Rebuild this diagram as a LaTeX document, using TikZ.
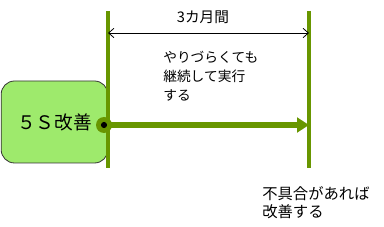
\documentclass[tikz,border=0pt]{standalone}
\usepackage{fontspec}
\setmainfont{Noto Sans CJK JP}
\usetikzlibrary{arrows.meta}
\begin{document}
\begin{tikzpicture}[x=0.75pt,y=-0.75pt]
    \definecolor{mygreen}{RGB}{104,150,0}
    \definecolor{myboxcol}{RGB}{158,234,108}
    \tikzset{
        kaizenbox/.style={draw=black!80, fill=myboxcol, line width=0.6pt, rounded corners=10pt,
            minimum width=80pt, minimum height=61.5pt, font=\fontsize{14}{15}\selectfont},
        gline/.style={mygreen, line width=3pt},
        note/.style={anchor=north west, align=left, inner sep=0pt, font=\fontsize{10.3}{14.2}\selectfont}
    }
    \useasboundingbox (0,0) rectangle (384,227);

    \node[kaizenbox] (kaizen) at (54.5,122) {５Ｓ改善};

    % start and end lines
    \coordinate (lt) at (108,11);
    \coordinate (lb) at (108,168);
    \coordinate (rt) at (309,11);
    \coordinate (rb) at (309,168);
    \draw[gline] (lt) -- (lb);
    \draw[gline] (rt) -- (rb);

    % period
    \coordinate (pl) at (108,33);
    \coordinate (pr) at (309,33);
    \draw[{Straight Barb[length=4pt,width=7pt]}-{Straight Barb[length=4pt,width=7pt]}, line width=0.6pt] (pl) -- (pr);
    \node[font=\fontsize{11}{12}\selectfont] (period) at (203,17) {3カ月間};

    % main arrow
    \coordinate (start) at (104,125);
    \coordinate (end) at (309,125);
    \fill[mygreen] (start) circle (6pt);
    \draw[mygreen, line width=5pt, -{Triangle[length=9pt,width=11pt]}] (start) -- (end);
    \fill[black] (start) circle (2.3pt);

    \node[note] (keep) at (163,51) {やりづらくても\\継続して実行\\する};
    \node[note, font=\fontsize{11.5}{13.5}\selectfont] (fix) at (262,186) {不具合があれば\\改善する};
\end{tikzpicture}
\end{document}
